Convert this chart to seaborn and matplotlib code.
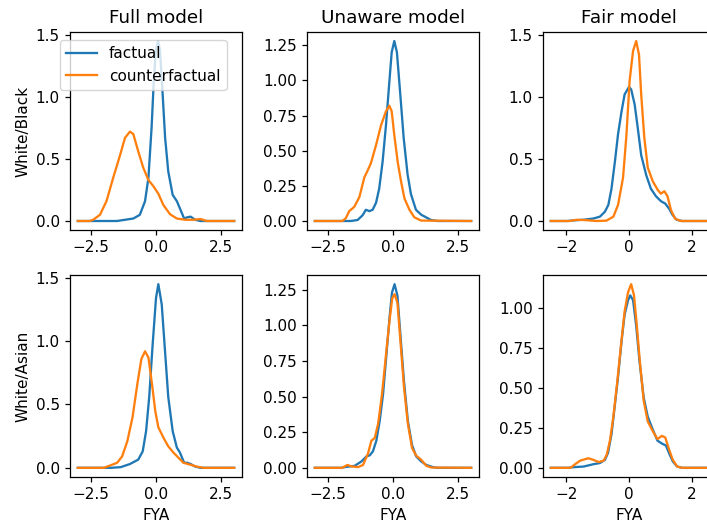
import matplotlib
matplotlib.use("Agg")
import matplotlib.pyplot as plt
import seaborn as sns

models = ["Full model", "Unaware model", "Fair model"]
groups = ["White/Black", "White/Asian"]
series = ["factual", "counterfactual"]
x_label = "FYA"

# tick labels per panel
xticks_wide = [-2.5, 0.0, 2.5]
xticks_fair = [-2, 0, 2]
yticks_half = [0.0, 0.5, 1.0, 1.5]
yticks_q125 = [0.0, 0.25, 0.5, 0.75, 1.0, 1.25]
yticks_q100 = [0.0, 0.25, 0.5, 0.75, 1.0]

# ---- White/Black, Full model ----
full_wb_fact_x = [-3.0, -1.5, -0.87, -0.62, -0.42, -0.29, -0.17, -0.08, 0.0, 0.08, 0.15, 0.22, 0.35, 0.47, 0.64, 0.8, 0.92, 1.08, 1.2, 1.33, 1.5, 1.7, 3.0]
full_wb_fact_y = [0.0, 0.0, 0.02, 0.05, 0.16, 0.35, 0.75, 1.15, 1.38, 1.45, 1.38, 1.15, 0.67, 0.40, 0.21, 0.16, 0.10, 0.02, 0.03, 0.035, 0.01, 0.0, 0.0]
full_wb_cf_x = [-3.0, -2.55, -2.41, -2.15, -1.9, -1.64, -1.38, -1.19, -1.0, -0.87, -0.68, -0.49, -0.29, -0.1, 0.09, 0.28, 0.54, 0.8, 1.12, 1.44, 1.7, 1.95, 3.0]
full_wb_cf_y = [0.0, 0.0, 0.01, 0.05, 0.16, 0.35, 0.53, 0.67, 0.72, 0.70, 0.56, 0.43, 0.33, 0.28, 0.22, 0.13, 0.054, 0.02, 0.01, 0.01, 0.016, 0.0, 0.0]

# ---- White/Black, Unaware model ----
unaw_wb_fact_x = [-3.0, -1.62, -1.36, -1.17, -1.04, -0.91, -0.78, -0.65, -0.53, -0.4, -0.27, -0.14, -0.05, 0.05, 0.15, 0.28, 0.41, 0.56, 0.69, 0.88, 1.08, 1.27, 1.46, 1.72, 3.0]
unaw_wb_fact_y = [0.0, 0.0, 0.007, 0.04, 0.08, 0.07, 0.08, 0.13, 0.23, 0.42, 0.68, 0.99, 1.20, 1.28, 1.20, 0.90, 0.59, 0.33, 0.19, 0.08, 0.045, 0.026, 0.007, 0.0, 0.0]
unaw_wb_cf_x = [-3.0, -1.94, -1.81, -1.68, -1.49, -1.29, -1.1, -0.97, -0.85, -0.65, -0.46, -0.27, -0.14, -0.05, 0.05, 0.18, 0.31, 0.44, 0.63, 0.82, 1.08, 3.0]
unaw_wb_cf_y = [0.0, 0.0, 0.02, 0.07, 0.10, 0.17, 0.31, 0.36, 0.41, 0.54, 0.68, 0.78, 0.82, 0.78, 0.61, 0.42, 0.28, 0.16, 0.08, 0.026, 0.003, 0.0]

# ---- White/Black, Fair model ----
fair_wb_fact_x = [-2.5, -1.98, -1.77, -1.45, -1.14, -0.93, -0.77, -0.66, -0.56, -0.45, -0.35, -0.24, -0.14, 0.0, 0.07, 0.18, 0.28, 0.39, 0.55, 0.7, 0.86, 1.02, 1.16, 1.28, 1.39, 1.52, 1.7, 2.5]
fair_wb_fact_y = [0.0, 0.0, 0.005, 0.01, 0.02, 0.035, 0.075, 0.13, 0.26, 0.48, 0.70, 0.88, 1.02, 1.08, 1.06, 0.94, 0.75, 0.53, 0.37, 0.26, 0.20, 0.16, 0.14, 0.10, 0.05, 0.01, 0.0, 0.0]
fair_wb_cf_x = [-2.5, -1.9, -1.66, -1.45, -1.03, -0.72, -0.5, -0.35, -0.19, -0.08, 0.02, 0.13, 0.23, 0.32, 0.39, 0.49, 0.6, 0.76, 0.92, 1.02, 1.13, 1.23, 1.34, 1.47, 1.65, 2.5]
fair_wb_cf_y = [0.0, 0.0, 0.01, 0.008, 0.0, 0.003, 0.035, 0.13, 0.35, 0.70, 1.13, 1.37, 1.45, 1.34, 1.02, 0.67, 0.43, 0.32, 0.25, 0.22, 0.24, 0.20, 0.09, 0.02, 0.0, 0.0]

# ---- White/Asian, Full model ----
full_wa_fact_x = [-3.0, -1.74, -1.36, -1.0, -0.68, -0.51, -0.38, -0.26, -0.13, 0.0, 0.09, 0.22, 0.35, 0.47, 0.64, 0.8, 0.92, 1.08, 1.2, 1.33, 1.5, 1.7, 3.0]
full_wa_fact_y = [0.0, 0.0, 0.005, 0.03, 0.065, 0.13, 0.29, 0.56, 0.97, 1.34, 1.45, 1.29, 0.91, 0.56, 0.29, 0.16, 0.12, 0.04, 0.04, 0.03, 0.01, 0.0, 0.0]
full_wa_cf_x = [-3.0, -2.0, -1.74, -1.49, -1.3, -1.1, -0.9, -0.71, -0.56, -0.42, -0.29, -0.14, -0.03, 0.09, 0.28, 0.47, 0.67, 0.86, 1.05, 1.31, 1.56, 1.82, 3.0]
full_wa_cf_y = [0.0, 0.0, 0.02, 0.04, 0.09, 0.21, 0.40, 0.67, 0.86, 0.92, 0.87, 0.64, 0.45, 0.32, 0.24, 0.17, 0.12, 0.08, 0.04, 0.025, 0.01, 0.0, 0.0]

# ---- White/Asian, Unaware model ----
unaw_wa_fact_x = [-3.0, -2.0, -1.85, -1.47, -1.21, -1.02, -0.89, -0.77, -0.64, -0.51, -0.38, -0.26, -0.13, -0.04, 0.06, 0.17, 0.29, 0.42, 0.57, 0.73, 0.89, 1.08, 1.28, 1.53, 1.72, 3.0]
unaw_wa_fact_y = [0.0, 0.0, 0.005, 0.014, 0.045, 0.08, 0.088, 0.116, 0.19, 0.33, 0.52, 0.78, 1.06, 1.23, 1.29, 1.21, 0.92, 0.61, 0.33, 0.16, 0.08, 0.045, 0.02, 0.005, 0.0, 0.0]
unaw_wa_cf_x = [-3.0, -1.95, -1.75, -1.59, -1.34, -1.15, -0.96, -0.83, -0.7, -0.57, -0.42, -0.26, -0.13, -0.03, 0.06, 0.17, 0.29, 0.42, 0.57, 0.73, 0.89, 1.08, 1.28, 1.47, 3.0]
unaw_wa_cf_y = [0.0, 0.0, 0.02, 0.01, 0.005, 0.02, 0.10, 0.19, 0.21, 0.31, 0.52, 0.81, 1.04, 1.19, 1.22, 1.16, 0.88, 0.57, 0.31, 0.14, 0.085, 0.057, 0.014, 0.002, 0.0]

# ---- White/Asian, Fair model ----
fair_wa_fact_x = [-2.5, -1.95, -1.77, -1.45, -1.13, -0.93, -0.77, -0.67, -0.56, -0.46, -0.35, -0.24, -0.14, -0.03, 0.04, 0.13, 0.23, 0.34, 0.47, 0.6, 0.76, 0.91, 1.07, 1.18, 1.3, 1.4, 1.54, 1.7, 2.5]
fair_wa_fact_y = [0.0, 0.0, 0.004, 0.008, 0.023, 0.03, 0.05, 0.094, 0.21, 0.38, 0.57, 0.79, 0.96, 1.05, 1.08, 1.05, 0.89, 0.66, 0.44, 0.32, 0.24, 0.17, 0.15, 0.14, 0.083, 0.04, 0.008, 0.0, 0.0]
fair_wa_cf_x = [-2.5, -1.87, -1.72, -1.56, -1.3, -1.14, -0.97, -0.81, -0.71, -0.61, -0.5, -0.38, -0.26, -0.14, -0.03, 0.07, 0.16, 0.25, 0.34, 0.47, 0.6, 0.76, 0.91, 1.05, 1.16, 1.29, 1.4, 1.54, 1.7, 2.5]
fair_wa_cf_y = [0.0, 0.0, 0.023, 0.045, 0.06, 0.05, 0.036, 0.045, 0.083, 0.17, 0.32, 0.53, 0.76, 0.98, 1.10, 1.15, 1.08, 0.89, 0.68, 0.42, 0.29, 0.23, 0.18, 0.20, 0.19, 0.11, 0.05, 0.008, 0.0, 0.0]

panels = [
    [(full_wb_fact_x, full_wb_fact_y, full_wb_cf_x, full_wb_cf_y),
     (unaw_wb_fact_x, unaw_wb_fact_y, unaw_wb_cf_x, unaw_wb_cf_y),
     (fair_wb_fact_x, fair_wb_fact_y, fair_wb_cf_x, fair_wb_cf_y)],
    [(full_wa_fact_x, full_wa_fact_y, full_wa_cf_x, full_wa_cf_y),
     (unaw_wa_fact_x, unaw_wa_fact_y, unaw_wa_cf_x, unaw_wa_cf_y),
     (fair_wa_fact_x, fair_wa_fact_y, fair_wa_cf_x, fair_wa_cf_y)],
]
panel_xticks = [[xticks_wide, xticks_wide, xticks_fair],
                [xticks_wide, xticks_wide, xticks_fair]]
panel_yticks = [[yticks_half, yticks_q125, yticks_half],
                [yticks_half, yticks_q125, yticks_q100]]

colors = ["#1f77b4", "#ff7f0e"]
FS = 11

fig = plt.figure(figsize=(7.07, 5.25), dpi=100)
W, H = 707.0, 525.0
col_left = [70, 307, 543]
ax_w = 172
row_top = [32, 275]
ax_h = [198, 202]

for r in range(2):
    for c in range(3):
        left = col_left[c] / W
        bottom = 1 - (row_top[r] + ax_h[r]) / H
        ax = fig.add_axes([left, bottom, ax_w / W, ax_h[r] / H])
        fx, fy, cx, cy = panels[r][c]
        first = (r == 0 and c == 0)
        sns.lineplot(x=fx, y=fy, ax=ax, color=colors[0], linewidth=1.65,
                     label=series[0] if first else None, legend=False, sort=False)
        sns.lineplot(x=cx, y=cy, ax=ax, color=colors[1], linewidth=1.65,
                     label=series[1] if first else None, legend=False, sort=False)
        ax.set_xticks(panel_xticks[r][c])
        ax.set_yticks(panel_yticks[r][c])
        ax.tick_params(labelsize=FS, length=3.8, width=0.9)
        for s in ax.spines.values():
            s.set_linewidth(0.9)
        if first:
            ax.legend(loc="upper left", bbox_to_anchor=(-0.058, 0.96),
                      borderaxespad=0, fontsize=FS)
        if r == 0:
            ax.set_title(models[c], fontsize=13.2, pad=6.5)
            ax.set_xlabel("")
        else:
            ax.set_xlabel(x_label, fontsize=FS)
        if c == 0:
            ax.set_ylabel(groups[r], fontsize=FS)
        else:
            ax.set_ylabel("")

fig.savefig("out.png", dpi=100)
